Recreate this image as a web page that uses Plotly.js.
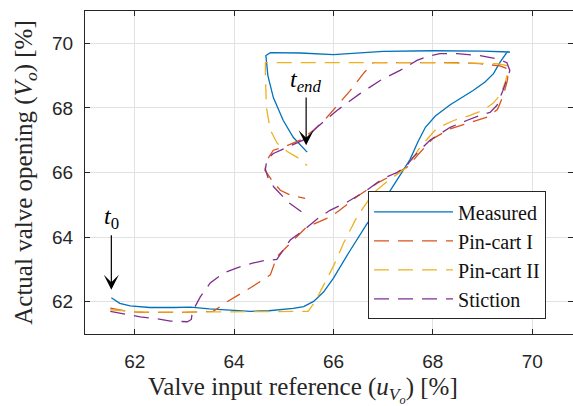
<!DOCTYPE html>
<html>
<head>
<meta charset="utf-8">
<script src="https://cdn.plot.ly/plotly-3.0.1.min.js"></script>
<style>html,body{margin:0;padding:0;background:#fff;overflow:hidden}#chart{width:573px;height:406px}</style>
</head>
<body>
<div id="chart"></div>
<script>
// Measured
const measuredU = [61.53,61.7,61.91,62.3,62.8,63.12,63.5,63.92,64.33,64.7,64.93,65.19,65.4,65.6,65.8,66.0,66.3,66.67,67.0,67.3,67.54,67.7,67.85,68.05,68.35,68.81,69.05,69.22,69.35,69.49,69.55,69.0,68.0,67.0,66.3,66.0,65.33,64.73,64.64,64.65,64.68,64.79,64.99,65.19,65.47];
const measuredV = [62.12,61.95,61.87,61.82,61.82,61.83,61.78,61.73,61.7,61.72,61.75,61.79,61.85,62.01,62.3,62.73,63.5,64.4,65.1,65.8,66.4,66.95,67.4,67.75,68.1,68.54,68.8,69.06,69.41,69.72,69.73,69.76,69.77,69.75,69.68,69.65,69.7,69.71,69.62,69.45,69.0,68.32,67.61,67.09,66.63];
// Pin-cart I
const pinCart1U = [61.51,61.85,62.2,63.0,63.58,63.86,64.33,64.73,64.86,65.26,65.45,65.67,65.93,66.13,66.47,66.88,67.28,67.48,67.7,68.0,68.35,68.75,69.1,69.3,69.42,69.5,69.52,69.35,68.95,68.5,67.5,66.8,66.6,66.34,65.87,65.6,65.33,64.99,64.79,64.66,64.62,64.76,64.93,65.13,65.43];
const pinCart1V = [61.8,61.7,61.67,61.67,61.7,62.0,62.43,62.83,63.39,64.01,64.3,64.45,64.62,64.84,65.25,65.67,65.98,66.16,66.55,67.05,67.35,67.55,67.72,67.95,68.4,68.85,69.2,69.3,69.37,69.4,69.4,69.4,69.06,68.54,67.71,67.31,67.0,66.78,66.69,66.38,66.07,65.76,65.45,65.3,65.2];
// Pin-cart II
const pinCart2U = [61.51,61.85,62.2,63.0,64.0,65.0,65.49,65.63,65.8,66.0,66.2,66.47,66.8,67.1,67.48,67.74,68.08,68.42,68.75,69.0,69.21,69.35,69.45,69.51,69.49,69.29,68.0,66.0,64.63,64.63,64.65,64.73,64.87,65.07,65.27,65.47];
const pinCart2V = [61.75,61.72,61.68,61.68,61.68,61.68,61.7,62.0,62.5,63.1,63.8,64.62,65.36,65.75,66.16,66.78,67.37,67.61,67.77,67.92,68.14,68.39,68.76,69.1,69.31,69.37,69.4,69.4,69.4,69.06,68.02,67.31,66.9,66.65,66.47,66.22];
// Stiction
const sticU = [61.51,61.85,62.11,62.46,62.72,63.06,63.14,63.16,63.32,63.52,63.79,64.06,64.39,64.6,64.86,65.13,65.39,65.69,65.93,66.27,66.67,67.0,67.28,67.48,67.6,67.94,68.35,68.68,68.95,69.15,69.29,69.41,69.51,69.55,69.49,69.29,68.95,68.49,68.14,67.9,67.68,67.34,66.94,66.54,66.07,65.67,65.39,65.07,64.79,64.66,64.63,64.68,64.8,65.09,65.37];
const sticV = [61.7,61.6,61.53,61.47,61.4,61.38,61.45,61.69,62.15,62.58,62.89,63.05,63.2,63.27,63.31,63.91,64.2,64.58,64.83,65.08,65.45,65.82,66.0,66.22,66.47,67.0,67.4,67.61,67.77,67.86,68.08,68.54,68.95,69.16,69.4,69.52,69.62,69.68,69.68,69.6,69.47,69.16,68.85,68.45,67.92,67.4,67.0,66.78,66.59,66.4,66.1,65.85,65.55,65.08,64.77];

const seriesNames = ['Measured','Pin-cart I','Pin-cart II','Stiction'];
const xTicks = [62,64,66,68,70];
const yTicks = [62,64,66,68,70];
const xTitle = 'Valve input reference (<i>u</i><sub><i>V</i><sub><i>o</i></sub></sub>) [%]';
const yTitle = 'Actual valve opening (<i>V</i><sub><i>o</i></sub>) [%]';

const colors = ['#0072BD','#D95319','#EDB120','#7E2F8E'];
const dashPat = '15px,9px';
const traces = [
  {x: measuredU, y: measuredV, name: seriesNames[0], mode:'lines', line:{color:colors[0], width:1.3}},
  {x: pinCart1U, y: pinCart1V, name: seriesNames[1], mode:'lines', line:{color:colors[1], width:1.3, dash:dashPat}},
  {x: pinCart2U, y: pinCart2V, name: seriesNames[2], mode:'lines', line:{color:colors[2], width:1.3, dash:dashPat}},
  {x: sticU, y: sticV, name: seriesNames[3], mode:'lines', line:{color:colors[3], width:1.3, dash:dashPat}}
];

const serif = 'Liberation Serif';
const sans = 'Liberation Sans';
const axisCommon = {
  showline:true, linecolor:'#262626', linewidth:1, mirror:'ticks',
  ticks:'inside', ticklen:5, tickcolor:'#262626', tickwidth:1,
  showgrid:true, gridcolor:'#e2e2e2', gridwidth:1, zeroline:false,
  tickfont:{family:sans, size:19, color:'#262626'}
};
const layout = {
  width:573, height:406,
  margin:{l:85, r:0, t:11, b:72},
  paper_bgcolor:'#fff', plot_bgcolor:'#fff',
  font:{family:serif, size:19, color:'#111'},
  showlegend:true,
  xaxis: Object.assign({}, axisCommon, {
    range:[61,70.82], tickvals:xTicks, ticktext:xTicks.map(String), ticklabelstandoff:10
  }),
  yaxis: Object.assign({}, axisCommon, {
    range:[61,71], tickvals:yTicks, ticktext:yTicks.map(String), ticklabelstandoff:7,
    title:{text:yTitle, font:{family:serif, size:25, color:'#262626'}, standoff:12}
  }),
  legend:{x:0.58, y:0.045, xanchor:'left', yanchor:'bottom', bgcolor:'#fff', bordercolor:'#262626', borderwidth:1,
    font:{family:serif, size:20, color:'#111'}, itemwidth:79, tracegroupgap:0},
  annotations:[
    {xref:'paper', yref:'paper', x:0.447, y:-0.172, xanchor:'center', yanchor:'middle', showarrow:false,
     text:xTitle, font:{family:serif, size:25, color:'#262626'}},
    {x:61.53, y:62.37, ax:61.53, ay:64.06, axref:'x', ayref:'y', xref:'x', yref:'y',
     text:'<i>t</i><sub>0</sub>', showarrow:true, arrowhead:3, arrowsize:2.1, arrowwidth:1.2, arrowcolor:'#000',
     yanchor:'bottom', font:{family:serif, size:24, color:'#000'}},
    {x:65.45, y:66.84, ax:65.45, ay:68.32, axref:'x', ayref:'y', xref:'x', yref:'y',
     text:'<i>t</i><sub><i>end</i></sub>', showarrow:true, arrowhead:3, arrowsize:2.1, arrowwidth:1.2, arrowcolor:'#000',
     yanchor:'bottom', font:{family:serif, size:24, color:'#000'}}
  ]
};
Plotly.newPlot('chart', traces, layout, {displayModeBar:false, staticPlot:true});
</script>
</body>
</html>
